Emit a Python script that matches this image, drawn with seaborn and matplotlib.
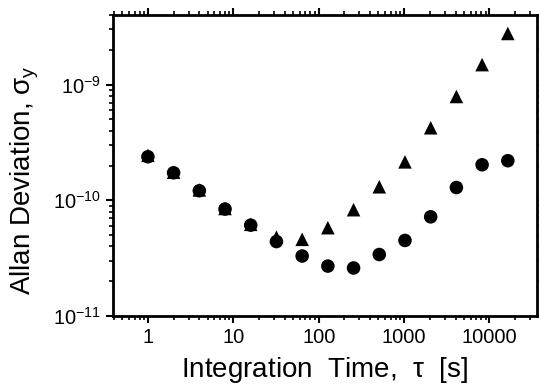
import matplotlib
matplotlib.use("Agg")
import matplotlib.pyplot as plt
import matplotlib.ticker as mticker
import seaborn as sns
import pandas as pd
import numpy as np

tau = [1, 2, 4, 8, 16, 32, 64, 128, 256, 512, 1024, 2048, 4096, 8192, 16384]
circles = [2.38e-10, 1.73e-10, 1.21e-10, 8.4e-11, 6.1e-11, 4.4e-11, 3.3e-11, 2.7e-11,
           2.6e-11, 3.4e-11, 4.5e-11, 7.2e-11, 1.29e-10, 2.03e-10, 2.2e-10]
triangles = [2.45e-10, 1.75e-10, 1.23e-10, 8.5e-11, 6.2e-11, 4.8e-11, 4.6e-11, 5.8e-11,
             8.3e-11, 1.31e-10, 2.15e-10, 4.24e-10, 7.9e-10, 1.49e-9, 2.77e-9]

df = pd.concat([
    pd.DataFrame({"tau": tau, "sigma": circles, "series": "circle"}),
    pd.DataFrame({"tau": tau, "sigma": triangles, "series": "triangle"}),
])

sns.set_style("ticks")
plt.rcParams['font.family'] = ['Liberation Sans', 'DejaVu Sans']
plt.rcParams['mathtext.fontset'] = 'custom'
plt.rcParams['mathtext.rm'] = 'Liberation Sans'
plt.rcParams['mathtext.it'] = 'Liberation Sans'
plt.rcParams['axes.labelcolor'] = 'black'
plt.rcParams['text.color'] = 'black'

fig = plt.figure(figsize=(5.39, 3.89), dpi=100)
ax = fig.add_axes([0.2096, 0.1877, 0.7867, 0.7737])

sns.scatterplot(data=df, x="tau", y="sigma", style="series",
                markers={"circle": "o", "triangle": "^"},
                color="black", s=95, edgecolor="black", linewidth=0,
                legend=False, ax=ax, zorder=3)

ax.set_xscale("log")
ax.set_yscale("log")
ax.set_xlim(0.39, 36000)
ax.set_ylim(1e-11, 4.0e-9)

ax.set_xticks([1, 10, 100, 1000, 10000])
ax.xaxis.set_major_formatter(mticker.FixedFormatter(["1", "10", "100", "1000", "10000"]))
ax.xaxis.set_minor_locator(mticker.LogLocator(base=10, subs=np.arange(2, 10), numticks=20))
ax.xaxis.set_minor_formatter(mticker.NullFormatter())
ax.set_yticks([1e-11, 1e-10, 1e-9])
ax.set_yticklabels([r"$10^{-11}$", r"$10^{-10}$", r"$10^{-9}$"])
ax.yaxis.set_minor_locator(mticker.LogLocator(base=10, subs=np.arange(2, 10), numticks=20))
ax.yaxis.set_minor_formatter(mticker.NullFormatter())

for s in ax.spines.values():
    s.set_linewidth(2)
    s.set_color("black")
    s.set_visible(True)

ax.tick_params(which="both", direction="out", top=True, right=True,
               colors="black", labelcolor="black")
ax.tick_params(which="major", length=5, width=1.5, labelsize=14.5)
ax.tick_params(which="minor", length=3, width=1.2)

ax.set_xlabel("Integration  Time,  $\\tau$  [s]", fontsize=20, labelpad=6)
ax.set_ylabel(r"Allan Deviation, $\sigma_y$", fontsize=20, labelpad=9)
ax.yaxis.label.set_y(0.45)

fig.savefig("out.png", dpi=100)
